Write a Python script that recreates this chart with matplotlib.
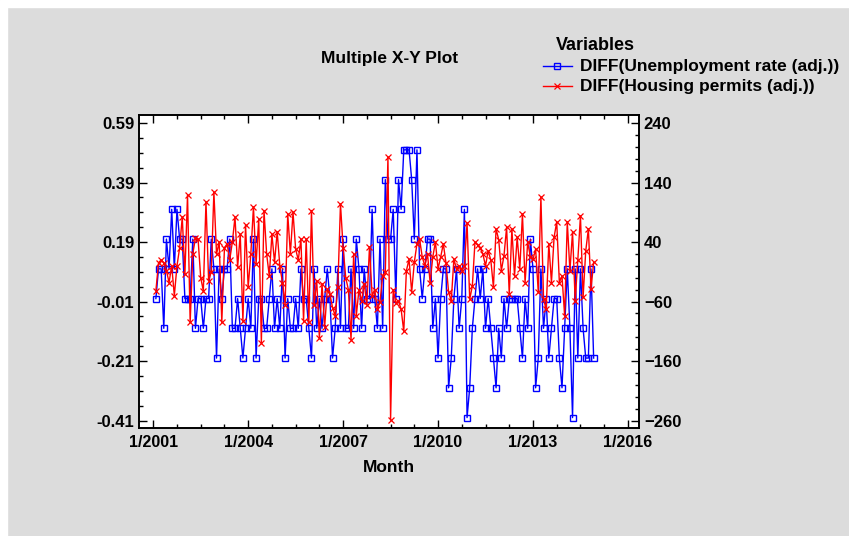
import numpy as np
import matplotlib.pyplot as plt
from matplotlib.lines import Line2D
from matplotlib.patches import Rectangle
from matplotlib.ticker import FixedLocator, MultipleLocator

# monthly differences, Feb 2001 .. Dec 2014
unemp = [0, .1, .1, -.1, .2, .1, .3, .1, .3, .2, .2,
         0, 0, 0, .2, -.1, 0, 0, -.1, 0, 0, .2, .1,
         -.2, .1, 0, .1, .1, .2, -.1, -.1, 0, -.1, -.2, -.1,
         0, -.1, .2, -.2, 0, 0, -.1, -.1, 0, .1, -.1, 0,
         -.1, .1, -.2, 0, -.1, -.1, 0, -.1, .1, 0, 0, -.1,
         -.2, .1, -.1, 0, -.1, 0, .1, 0, -.2, -.1, .1, -.1,
         .2, -.1, -.1, .1, -.1, .2, .1, -.1, .1, 0, 0, .3,
         0, -.1, .2, -.1, .4, .2, .2, .3, 0, .4, .3, .5,
         .5, .5, .4, .2, .5, .1, 0, .1, .2, .2, -.1, 0,
         -.2, 0, .1, .1, -.3, -.2, 0, .1, -.1, 0, .3, -.4,
         -.3, -.1, 0, .1, 0, .1, -.1, 0, -.1, -.2, -.3, -.1,
         -.2, 0, -.1, 0, 0, 0, 0, -.1, -.2, 0, -.1, .2,
         .1, -.3, -.2, .1, -.1, 0, -.2, -.1, 0, 0, -.2, -.3,
         -.1, .1, -.1, -.4, .1, -.2, .1, -.1, -.2, -.2, .1, -.2]

permits = [-42, 5, 10, 5, -8, -28, 0, -50, 0, 30, 82,
           -14, 119, -95, 20, 47, 45, -20, -42, 108, -25, -10, 124,
           20, 40, -95, 30, 37, 10, 40, 82, -2, 53, -93, 69,
           -36, 20, 99, 3, 79, -129, 93, 20, -17, 53, 6, 57,
           0, -28, -65, 87, 20, 90, 28, 10, 45, -93, 45, -95,
           93, -65, -25, -121, -30, -103, -39, -48, -70, -84, -36, 104,
           30, -20, -40, -124, 20, -84, -40, -59, -30, -65, 32, -50,
           -40, -73, -60, -17, -11, 183, -259, -40, -62, -59, -73, -110,
           -8, 11, -44, 6, 37, 45, 15, 0, 20, -28, 15, 40,
           -5, 15, 37, 5, -44, -59, 11, -5, 0, -8, 0, 72,
           -56, -34, 40, 35, 30, 20, 0, 25, 10, -36, 62, 44,
           -8, 17, 65, -48, 62, -17, 48, -5, 87, -28, 40, 15,
           11, 28, -44, 116, -56, -73, 37, -28, 48, 74, -28, -17,
           -84, 74, -8, 57, -59, 10, 84, -53, 25, 62, -39, 6]

xticks = [2001, 2004, 2007, 2010, 2013, 2016]
xlabels = ['1/2001', '1/2004', '1/2007', '1/2010', '1/2013', '1/2016']
lticks = [0.59, 0.39, 0.19, -0.01, -0.21, -0.41]
rticks = [240, 140, 40, -60, -160, -260]

months = 2001 + (1 + np.arange(len(unemp))) / 12.0

plt.rcParams['font.family'] = 'Liberation Sans'
plt.rcParams['font.weight'] = 'bold'
fs = 11.5
fy = 12
fl = 12.5

fig = plt.figure(figsize=(8.49, 5.36), dpi=100)
fig.patch.set_facecolor('#dcdcdc')
# white strips at the top and left edge
fig.add_artist(Rectangle((0, 1 - 7/536), 1, 7/536, transform=fig.transFigure, color='white', zorder=-1))
fig.add_artist(Rectangle((0, 0), 7/849, 1, transform=fig.transFigure, color='white', zorder=-1))

ax = fig.add_axes([139/849, 1 - 428/536, 500/849, 313/536])
ax.set_facecolor('white')
ax.plot(months, unemp, color='blue', lw=1, marker='s', ms=4.5, mfc='none', mec='blue', mew=1)
ax.set_xlim(2000.55, 2016.35)
ax.set_ylim(-0.435, 0.617)
ax.set_xticks(xticks)
ax.set_xticklabels(xlabels)
ax.xaxis.set_minor_locator(FixedLocator(np.arange(2001, 2016.1, 0.75)))
ax.set_yticks(lticks)
ax.set_yticklabels(['%.2f' % v for v in lticks])
ax.yaxis.set_minor_locator(FixedLocator(np.arange(-0.41, 0.6, 0.05)))
ax.tick_params(which='both', direction='in', top=True, width=1)
ax.tick_params(axis='x', labelsize=fs, pad=5)
ax.tick_params(axis='y', labelsize=fy)
ax.tick_params(which='major', length=6)
ax.tick_params(which='minor', length=3)
ax.tick_params(axis='y', which='both', right=False)
ax.set_xlabel('Month', fontsize=fl, fontweight='bold', labelpad=7)

# permits on the right axis, drawn over the unemployment line
ax2 = ax.twinx()
ax2.plot(months, permits, color='red', lw=1, marker='x', ms=5, mew=0.9)
ax2.set_ylim(-272.5, 253.5)
ax2.set_yticks(rticks)
ax2.yaxis.set_minor_locator(MultipleLocator(20))
ax2.tick_params(which='both', direction='in', labelsize=fy, width=1)
ax2.tick_params(which='major', length=6)
ax2.tick_params(which='minor', length=3)
ax2.patch.set_visible(False)

for a in (ax, ax2):
    for s in a.spines.values():
        s.set_linewidth(1.2)

fig.text(390/849, 1 - 58/536, 'Multiple X-Y Plot', ha='center', va='center', fontsize=fl, fontweight='bold')
fig.text(556/849, 1 - 46/536, 'Variables', ha='left', va='center', fontsize=fl + 0.5, fontweight='bold')
fig.add_artist(Line2D([543/849, 572/849], [1 - 66/536] * 2, color='blue', lw=1))
fig.add_artist(Line2D([557/849], [1 - 66/536], color='blue', marker='s', ms=4.5, mfc='none', mew=1))
fig.add_artist(Line2D([543/849, 572/849], [1 - 86/536] * 2, color='red', lw=1))
fig.add_artist(Line2D([557/849], [1 - 86/536], color='red', marker='x', ms=5, mew=0.9))
fig.text(580/849, 1 - 66/536, 'DIFF(Unemployment rate (adj.))', ha='left', va='center', fontsize=fl, fontweight='bold')
fig.text(580/849, 1 - 86/536, 'DIFF(Housing permits (adj.))', ha='left', va='center', fontsize=fl, fontweight='bold')

fig.savefig('out.png', dpi=100, facecolor=fig.get_facecolor())
